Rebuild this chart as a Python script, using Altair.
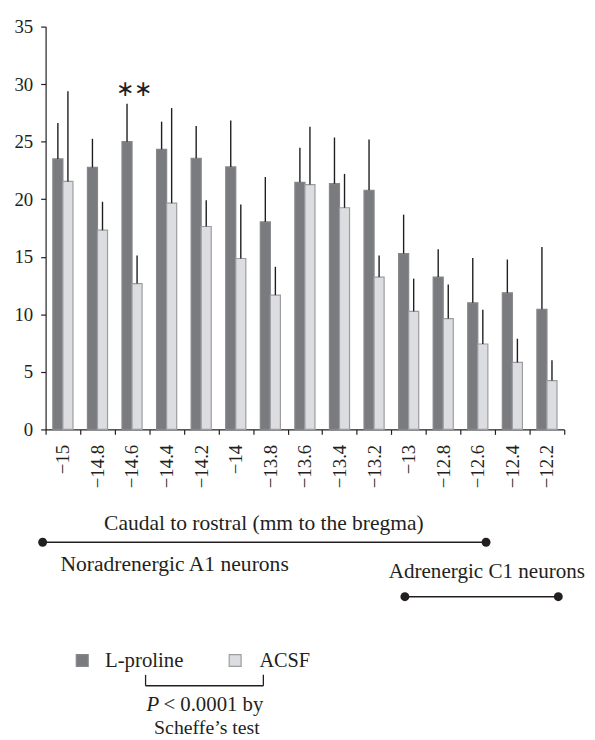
import altair as alt
import pandas as pd

# ---- data ----
positions = ["−15", "−14.8", "−14.6", "−14.4", "−14.2", "−14", "−13.8", "−13.6",
             "−13.4", "−13.2", "−13", "−12.8", "−12.6", "−12.4", "−12.2"]
series = ["L-proline", "ACSF"]
lproline_mean = [23.5, 22.76, 25.0, 24.33, 23.56, 22.81, 18.03, 21.47,
                 21.35, 20.78, 15.28, 13.24, 11.0, 11.87, 10.43]
lproline_upper = [26.63, 25.25, 28.29, 26.74, 26.37, 26.83, 21.93, 24.48,
                  25.36, 25.19, 18.66, 15.65, 14.9, 14.76, 15.85]
acsf_mean = [21.55, 17.31, 12.67, 19.66, 17.63, 14.85, 11.67, 21.27,
             19.26, 13.24, 10.26, 9.63, 7.42, 5.82, 4.24]
acsf_upper = [29.38, 19.78, 15.1, 27.92, 19.92, 19.54, 14.13, 26.3,
              22.2, 15.1, 13.1, 12.6, 10.4, 7.88, 6.02]
y_ticks = [0, 5, 10, 15, 20, 25, 30, 35]
sig_position = ["−14.6"]
sig_label = ["∗∗"]
sig_y = [29.6]

rows = []
for i, p in enumerate(positions):
    rows.append({"pos": p, "series": series[0], "mean": lproline_mean[i], "upper": lproline_upper[i]})
    rows.append({"pos": p, "series": series[1], "mean": acsf_mean[i], "upper": acsf_upper[i]})
df = pd.DataFrame(rows)
sig_df = pd.DataFrame({"pos": sig_position, "label": sig_label, "y": sig_y})
one = pd.DataFrame({"k": [0]})

FONT = "Liberation Serif"
TXT = "#231f20"
FILLS = ["#7a7b7f", "#dcdde0"]
STROKES = ["#86878b", "#9c9da0"]

x_enc = alt.X(
    "pos:N", sort=positions,
    scale=alt.Scale(paddingInner=0, paddingOuter=0),
    axis=alt.Axis(title=None, labelAngle=-90, tickBand="extent", labelFont=FONT,
                  labelFontSize=19, labelColor=TXT, labelPadding=10, tickSize=5,
                  domainColor=TXT, tickColor=TXT, domainWidth=1.2, tickWidth=1.2),
)
xoff = alt.XOffset("series:N", sort=series,
                   scale=alt.Scale(domain=series, paddingOuter=0.72, paddingInner=0))
y_enc = alt.Y(
    "mean:Q",
    scale=alt.Scale(domain=[0, 35], nice=False),
    axis=alt.Axis(title=None, values=y_ticks, grid=False, labelFont=FONT, labelFontSize=19,
                  labelColor=TXT, labelPadding=8, tickSize=5, domainColor=TXT,
                  tickColor=TXT, domainWidth=1.2, tickWidth=1.2),
)

bars = alt.Chart(df).mark_bar(strokeWidth=1.2).encode(
    x=x_enc, xOffset=xoff, y=y_enc,
    color=alt.Color("series:N", sort=series, scale=alt.Scale(domain=series, range=FILLS), legend=None),
    stroke=alt.Stroke("series:N", sort=series, scale=alt.Scale(domain=series, range=STROKES), legend=None),
)
errs = alt.Chart(df).mark_rule(color="#1e1e1e", strokeWidth=1.4).encode(
    x=alt.X("pos:N", sort=positions), xOffset=alt.XOffset("series:N", sort=series),
    y="mean:Q", y2="upper:Q",
)
sig = alt.Chart(sig_df).mark_text(font=FONT, fontSize=22, color=TXT, baseline="middle", dx=2).encode(
    x=alt.X("pos:N", sort=positions), y="y:Q", text="label:N",
)


def txt(s, x, y, align="left", size=21, style="normal"):
    return alt.Chart(one).mark_text(
        text=s, align=align, baseline="alphabetic", font=FONT, fontSize=size,
        fontStyle=style, color=TXT,
    ).encode(x=alt.value(x), y=alt.value(y))


def hline(x1, x2, y, w=1.5):
    return alt.Chart(one).mark_rule(color=TXT, strokeWidth=w).encode(
        x=alt.value(x1), x2=alt.value(x2), y=alt.value(y))


def vline(x, y1, y2, w=1.3):
    return alt.Chart(one).mark_rule(color=TXT, strokeWidth=w).encode(
        x=alt.value(x), y=alt.value(y1), y2=alt.value(y2))


def dot(x, y):
    return alt.Chart(one).mark_circle(size=81, color=TXT, opacity=1).encode(
        x=alt.value(x), y=alt.value(y))


def square(x, y, fill, stroke):
    return alt.Chart(one).mark_square(size=144, fill=fill, stroke=stroke, strokeWidth=1.2,
                                      opacity=1).encode(x=alt.value(x), y=alt.value(y))


annots = [
    txt("Caudal to rostral (mm to the bregma)", 220.5, 509, align="center", size=21.7),
    hline(-3, 445, 521), dot(-3, 521), dot(445, 521),
    txt("Noradrenergic A1 neurons", 15, 550, size=21.8),
    txt("Adrenergic C1 neurons", 545, 557, align="right", size=21.3),
    hline(363, 518, 576), dot(363, 576), dot(518, 576),
    square(37, 640.5, FILLS[0], STROKES[0]), txt(series[0], 60, 647, size=21),
    square(191.5, 640.5, FILLS[1], STROKES[1]), txt(series[1], 216, 647, size=20.5),
    hline(101, 220, 666, w=1.3), vline(101, 655, 666), vline(220, 655, 666),
    txt("P", 102, 692, style="italic", size=21),
    txt("< 0.0001 by", 119, 692, size=21),
    txt("Scheffe’s test", 163, 715, align="center", size=20),
]

chart = alt.layer(bars, errs, sig, *annots).properties(
    width=524, height=407,
    autosize=alt.AutoSizeParams(type="none"),
    padding={"left": 38, "top": 15, "right": 23, "bottom": 308},
).configure_view(stroke=None)

chart.save("out.html", embed_options={"renderer": "svg", "actions": False})
